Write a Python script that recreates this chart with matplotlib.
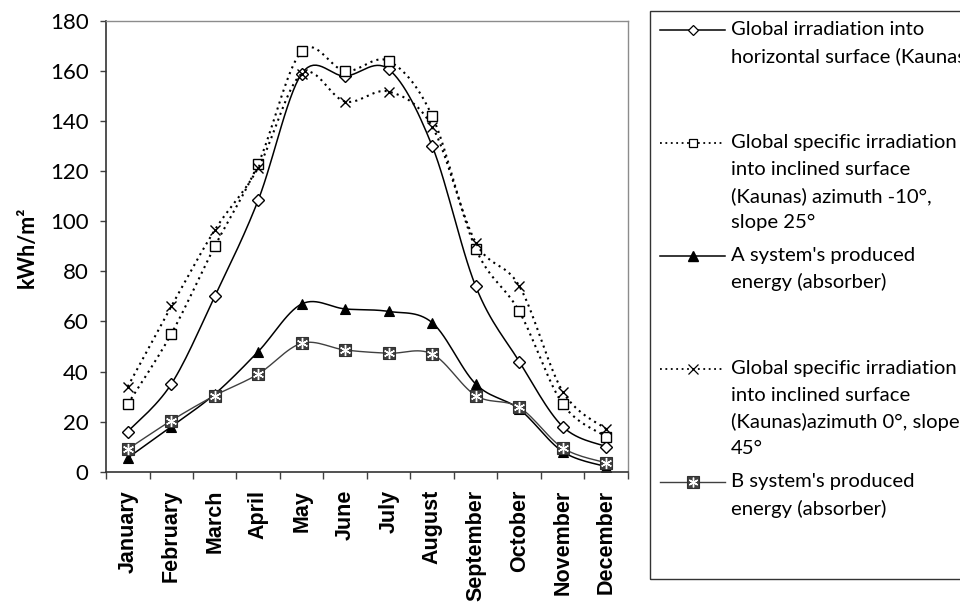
import numpy as np
import matplotlib
matplotlib.use("Agg")
import matplotlib.pyplot as plt
from matplotlib.lines import Line2D
from matplotlib.patches import Rectangle

# Monthly irradiation / produced energy, kWh/m2
months = ["January", "February", "March", "April", "May", "June",
          "July", "August", "September", "October", "November", "December"]
horiz = [16, 35, 70, 108.5, 159, 158, 160.7, 130, 74, 44, 18, 10]
incl_25 = [27, 55, 90, 123, 168, 160, 164, 142, 89, 64, 27, 14]
sys_a = [5.5, 18, 31, 48, 67, 65, 64, 59.5, 35, 25, 8, 2]
incl_45 = [34, 66, 96.5, 121.4, 159, 147.8, 151.8, 137.8, 91.5, 74.2, 32, 17]
sys_b = [9, 20.4, 30.4, 39, 51.3, 48.6, 47.3, 47, 30.4, 25.7, 9.5, 3.5]

legend_labels = [
    ["Global irradiation into", "horizontal surface (Kaunas)"],
    ["Global specific irradiation", "into inclined surface",
     "(Kaunas) azimuth -10°,", "slope 25°"],
    ["A system's produced", "energy (absorber)"],
    ["Global specific irradiation", "into inclined surface",
     "(Kaunas)azimuth 0°, slope", "45°"],
    ["B system's produced", "energy (absorber)"],
]

W, H = 960, 602
body_font = ["Lato", "DejaVu Sans"]
dotted = (0, (1, 2))


def smooth(xs, ys, steps=16):
    # Excel-like smoothed line: cubic bezier through the points (catmull-rom)
    pts = np.column_stack([xs, ys]).astype(float)
    p = np.vstack([pts[0], pts, pts[-1]])
    t = np.linspace(0, 1, steps)[:, None]
    out = []
    for i in range(1, len(p) - 2):
        p0, p1, p2, p3 = p[i - 1], p[i], p[i + 1], p[i + 2]
        c1 = p1 + (p2 - p0) / 6
        c2 = p2 - (p3 - p1) / 6
        seg = (1 - t) ** 3 * p1 + 3 * (1 - t) ** 2 * t * c1 + 3 * (1 - t) * t ** 2 * c2 + t ** 3 * p2
        out.append(seg if i == 1 else seg[1:])
    out = np.vstack(out)
    return out[:, 0], out[:, 1]


def fx(x):
    return x / W


def fy(y):
    return 1 - y / H


fig = plt.figure(figsize=(9.6, 6.02), dpi=100)
ax = fig.add_axes([fx(106), fy(471.7), (628 - 106) / W, (471.7 - 21) / H])

x = np.arange(len(months)) + 0.5

# series styles: (values, line kwargs, marker kwargs)
styles = [
    (horiz, dict(color="black", lw=1.1),
     dict(marker="D", ms=6.5, mfc="white", mec="black", mew=1.0)),
    (incl_25, dict(color="black", lw=1.5, ls=dotted),
     dict(marker="s", ms=7, mfc="white", mec="black", mew=1.0)),
    (sys_a, dict(color="black", lw=1.1),
     dict(marker="^", ms=7.5, mfc="black", mec="black", mew=0.8)),
    (incl_45, dict(color="black", lw=1.5, ls=dotted),
     dict(marker="x", ms=7.5, mec="black", mew=1.0)),
]
for vals, lk, mk in styles:
    sx, sy = smooth(x, vals)
    ax.plot(sx, sy, **lk)
    ax.plot(x, vals, ls="none", **mk)

sx, sy = smooth(x, sys_b)
ax.plot(sx, sy, color="#404040", lw=1.0)
ax.plot(x, sys_b, ls="none", marker="s", ms=9, mfc="#404040", mec="#303030", mew=0.8)
ax.plot(x, sys_b, ls="none", marker=(6, 2, 0), ms=8, mec="white", mew=1.0)

ax.set_xlim(0, 12)
ax.set_ylim(0, 180)
ax.set_yticks(np.arange(0, 181, 20))
ax.set_xticks(np.arange(0, 13))
ax.set_xticklabels([])
ax.set_xticks(x, minor=True)
ax.set_xticklabels(months, minor=True, rotation=90, fontsize=15.5,
                   fontweight="bold", family=["Liberation Sans", "DejaVu Sans"])
ax.tick_params(axis="x", which="major", direction="out", length=5, width=1, color="#404040")
ax.tick_params(axis="x", which="minor", length=0, pad=13)
ax.tick_params(axis="y", direction="out", length=4.5, width=1, color="#404040", pad=8)
for lab in ax.get_yticklabels():
    lab.set_family(body_font)
    lab.set_fontsize(16)

for side in ["top", "right"]:
    ax.spines[side].set_color("#8c8c8c")
    ax.spines[side].set_linewidth(1)
for side in ["left", "bottom"]:
    ax.spines[side].set_color("#333333")
    ax.spines[side].set_linewidth(1.2)

fig.text(fx(27), fy(247), "kWh/m²", rotation=90, ha="center", va="center",
         fontsize=15.5, fontweight="bold", family=body_font)

# legend drawn by hand to follow the tall Excel legend box
fig.patches.append(Rectangle((fx(650), fy(579)), fx(1000) - fx(650), fy(11) - fy(579),
                             transform=fig.transFigure, fill=False, ec="#333333", lw=1))

handle_styles = [
    [dict(color="black", lw=1.1, marker="D", ms=5.5, mfc="white", mec="black", mew=0.9)],
    [dict(color="black", lw=1.3, ls=dotted, marker="s", ms=6, mfc="white", mec="black", mew=0.9)],
    [dict(color="black", lw=1.1, marker="^", ms=6.5, mfc="black", mec="black")],
    [dict(color="black", lw=1.3, ls=dotted, marker="x", ms=6.5, mec="black", mew=0.9)],
    [dict(color="#404040", lw=1.0, marker="s", ms=8, mfc="#404040", mec="#303030", mew=0.8),
     dict(ls="none", marker=(6, 2, 0), ms=7, mec="white", mew=1.0)],
]
entry_y0 = 29.5
entry_step = 113.1
line_step = 26.6
for i, (lines, hs) in enumerate(zip(legend_labels, handle_styles)):
    ey = entry_y0 + i * entry_step
    for kw in hs:
        fig.add_artist(Line2D([fx(660), fx(693), fx(725)], [fy(ey)] * 3,
                              transform=fig.transFigure, markevery=[1], **kw))
    for k, txt in enumerate(lines):
        fig.text(fx(731), fy(ey + k * line_step), txt, ha="left", va="center",
                 fontsize=14.6, family=body_font)

fig.savefig("out.png", dpi=100)
